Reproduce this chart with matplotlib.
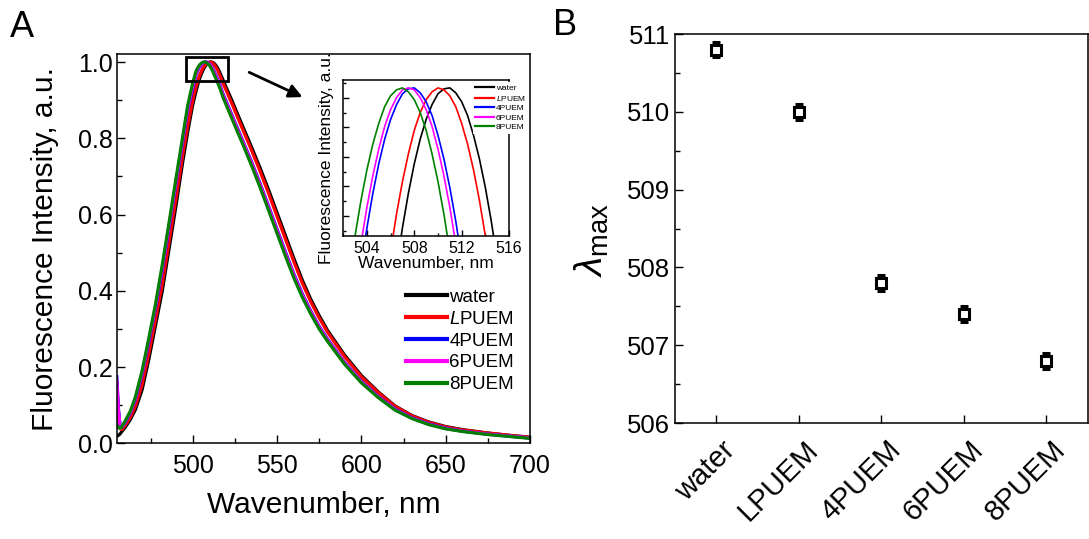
import matplotlib
matplotlib.use("Agg")
import matplotlib.pyplot as plt
from matplotlib.patches import Rectangle
from matplotlib.ticker import MultipleLocator
from matplotlib.transforms import ScaledTranslation

plt.rcParams['font.family'] = ['Liberation Sans', 'DejaVu Sans']
plt.rcParams['mathtext.fontset'] = 'custom'
plt.rcParams['mathtext.rm'] = 'Liberation Sans'
plt.rcParams['mathtext.it'] = 'Liberation Sans:italic'

# wavelength grid of the spectra, nm
wavelength = [455, 456, 457, 458, 460, 463, 466, 470, 474, 478, 482, 486, 490, 494, 497, 500,
              502.0, 502.5, 503.0, 503.5, 504.0, 504.5, 505.0, 505.5, 506.0, 506.5, 507.0, 507.5,
              508.0, 508.5, 509.0, 509.5, 510.0, 510.5, 511.0, 511.5, 512.0, 512.5, 513.0, 513.5,
              514.0, 514.5, 515.0, 515.5, 516.0,
              518, 520, 523, 526, 530, 535, 540, 545, 550, 555, 560, 565, 570, 575, 580, 590,
              600, 610, 620, 630, 640, 650, 660, 675, 690, 700]

water = [0.018, 0.021, 0.025, 0.031, 0.042, 0.062, 0.088, 0.140, 0.220, 0.310, 0.400, 0.510,
         0.620, 0.735, 0.815, 0.887,
         0.9236, 0.9321, 0.9400, 0.9475, 0.9544, 0.9609, 0.9668, 0.9723, 0.9773, 0.9818, 0.9858,
         0.9893, 0.9923, 0.9948, 0.9968, 0.9983, 0.9994, 0.9999, 1.0000, 0.9995, 0.9986, 0.9972,
         0.9952, 0.9928, 0.9899, 0.9865, 0.9826, 0.9782, 0.9733,
         0.953, 0.932, 0.902, 0.870, 0.828, 0.776, 0.722, 0.665, 0.605, 0.545, 0.485, 0.428,
         0.378, 0.335, 0.296, 0.232, 0.178, 0.135, 0.098, 0.073, 0.056, 0.044, 0.036, 0.027,
         0.020, 0.016]

lpuem = [0.160, 0.070, 0.038, 0.036, 0.047, 0.068, 0.097, 0.154, 0.236, 0.326, 0.419, 0.529,
         0.640, 0.754, 0.832, 0.899,
         0.9353, 0.9430, 0.9503, 0.9571, 0.9633, 0.9691, 0.9744, 0.9791, 0.9834, 0.9872, 0.9905,
         0.9933, 0.9957, 0.9975, 0.9988, 0.9996, 1.0000, 0.9998, 0.9992, 0.9981, 0.9964, 0.9943,
         0.9917, 0.9886, 0.9850, 0.9809, 0.9763, 0.9712, 0.9657,
         0.9446, 0.924, 0.8935, 0.8616, 0.8197, 0.7674, 0.7129, 0.6554, 0.5954, 0.5354, 0.4759,
         0.420, 0.3711, 0.3288, 0.2909, 0.2277, 0.1746, 0.133, 0.097, 0.072, 0.055, 0.043,
         0.035, 0.027, 0.020, 0.016]

puem4 = [0.175, 0.090, 0.045, 0.042, 0.055, 0.079, 0.114, 0.180, 0.265, 0.355, 0.455, 0.565,
         0.678, 0.788, 0.872, 0.930,
         0.9668, 0.9723, 0.9773, 0.9818, 0.9858, 0.9893, 0.9923, 0.9948, 0.9968, 0.9983, 0.9994,
         0.9999, 1.0000, 0.9995, 0.9986, 0.9972, 0.9952, 0.9928, 0.9899, 0.9865, 0.9826, 0.9782,
         0.9733, 0.9680, 0.9630, 0.9580, 0.9530, 0.9478, 0.9425,
         0.916, 0.8956, 0.8637, 0.8322, 0.7906, 0.7371, 0.681, 0.6218, 0.5618, 0.5018, 0.444,
         0.392, 0.347, 0.3069, 0.273, 0.2126, 0.1625, 0.123, 0.090, 0.067, 0.051, 0.040,
         0.032, 0.024, 0.018, 0.014]

puem6 = [0.165, 0.085, 0.043, 0.043, 0.057, 0.081, 0.117, 0.184, 0.270, 0.360, 0.461, 0.571,
         0.683, 0.794, 0.876, 0.937,
         0.9702, 0.9754, 0.9800, 0.9842, 0.9879, 0.9911, 0.9938, 0.9961, 0.9978, 0.9990, 0.9998,
         1.0000, 0.9998, 0.9990, 0.9978, 0.9961, 0.9938, 0.9911, 0.9879, 0.9842, 0.9800, 0.9754,
         0.9702, 0.9645, 0.9600, 0.9550, 0.9500, 0.9446, 0.9390,
         0.913, 0.8924, 0.8606, 0.829, 0.7874, 0.7339, 0.6775, 0.6182, 0.5582, 0.4982, 0.4405,
         0.389, 0.3445, 0.3046, 0.271, 0.2109, 0.1612, 0.122, 0.089, 0.066, 0.050, 0.039,
         0.032, 0.024, 0.018, 0.014]

puem8 = [0.048, 0.042, 0.039, 0.044, 0.059, 0.084, 0.121, 0.190, 0.276, 0.366, 0.469, 0.579,
         0.692, 0.802, 0.885, 0.945,
         0.9763, 0.9809, 0.9850, 0.9886, 0.9917, 0.9943, 0.9964, 0.9981, 0.9992, 0.9998, 1.0000,
         0.9996, 0.9988, 0.9975, 0.9957, 0.9933, 0.9905, 0.9872, 0.9834, 0.9791, 0.9744, 0.9691,
         0.9640, 0.9590, 0.9540, 0.9490, 0.9435, 0.9380, 0.9330,
         0.907, 0.886, 0.8543, 0.8228, 0.7812, 0.7274, 0.6707, 0.611, 0.551, 0.491, 0.4337,
         0.383, 0.3393, 0.2999, 0.2672, 0.2077, 0.1587, 0.120, 0.087, 0.065, 0.049, 0.038,
         0.031, 0.023, 0.017, 0.013]

labels = ['water', r'$\it{L}$PUEM', '4PUEM', '6PUEM', '8PUEM']
colors = ['black', 'red', 'blue', 'magenta', 'green']
spectra = [water, lpuem, puem4, puem6, puem8]

# panel B: emission maximum per sample
samples = ['water', 'LPUEM', '4PUEM', '6PUEM', '8PUEM']
lambda_max = [510.8, 510.0, 507.8, 507.4, 506.8]
lambda_err = [0.1, 0.1, 0.1, 0.1, 0.1]

fig = plt.figure(figsize=(10.89, 5.39), dpi=100)

def style(ax, size):
    for s in ax.spines.values():
        s.set_linewidth(1.1)
    ax.tick_params(which='both', direction='in', width=1.0, labelsize=size,
                   top=False, right=False)
    ax.tick_params(which='major', length=6)
    ax.tick_params(which='minor', length=3.5)

# ---- panel A
ax = fig.add_axes([0.1077, 0.1775, 0.379, 0.7223])
for y, c, lab in zip(spectra, colors, labels):
    ax.plot(wavelength, y, color=c, lw=2.3, label=lab)
ax.set_xlim(455.3, 700)
ax.set_ylim(0, 1.021)
ax.xaxis.set_major_locator(MultipleLocator(50))
ax.xaxis.set_minor_locator(MultipleLocator(25))
ax.yaxis.set_major_locator(MultipleLocator(0.2))
ax.yaxis.set_minor_locator(MultipleLocator(0.1))
style(ax, 18)
ax.tick_params(axis='x', pad=8)
ax.set_xlabel('Wavenumber, nm', fontsize=21.5, labelpad=9)
ax.set_ylabel('Fluorescence Intensity, a.u.', fontsize=21.5, labelpad=13)
leg = ax.legend(loc='upper left', bbox_to_anchor=(0.70, 0.397), frameon=False,
                fontsize=13.5, handlelength=2.2, handletextpad=0.1, labelspacing=0.25,
                borderpad=0, borderaxespad=0)
for l in leg.get_lines():
    l.set_linewidth(3)

ax.add_patch(Rectangle((496, 0.95), 25, 0.064, fill=False, lw=2, ec='black', zorder=5))
ax.annotate('', xy=(566.6, 0.905), xytext=(532, 0.976),
            arrowprops=dict(arrowstyle='-|>', lw=2, color='black', mutation_scale=20))

# ---- inset
axi = fig.add_axes([0.3152, 0.5627, 0.1522, 0.2889])
for y, c, lab in zip(spectra, colors, labels):
    axi.plot(wavelength, y, color=c, lw=1.2, label=lab)
axi.set_xlim(502, 516)
axi.set_ylim(0.985, 1.0008)
axi.xaxis.set_major_locator(MultipleLocator(4))
axi.xaxis.set_minor_locator(MultipleLocator(2))
axi.yaxis.set_major_locator(MultipleLocator(0.003))
axi.yaxis.set_minor_locator(MultipleLocator(0.0015))
style(axi, 11.5)
axi.tick_params(which='major', length=4)
axi.tick_params(which='minor', length=2)
axi.set_yticklabels([])
axi.set_xlabel('Wavenumber, nm', fontsize=12.5, labelpad=0)
axi.set_ylabel('Fluorescence Intensity, a.u.', fontsize=12.5, labelpad=3)
legi = axi.legend(loc='upper left', bbox_to_anchor=(0.78, 0.99), frameon=True,
                  facecolor='white', edgecolor='none', framealpha=1, fancybox=False,
                  fontsize=6, handlelength=2.3, handletextpad=0.2, labelspacing=0.2,
                  borderpad=0.3, borderaxespad=0)
for l in legi.get_lines():
    l.set_linewidth(1.6)

# ---- panel B
ax2 = fig.add_axes([0.6198, 0.2152, 0.379, 0.7217])
xpos = list(range(len(samples)))
ax2.errorbar(xpos, lambda_max, yerr=lambda_err, fmt='s', mfc='white', mec='black',
             ms=7, mew=2.2, ecolor='black', elinewidth=1, capsize=3, capthick=1)
ax2.set_xlim(-0.5, 4.5)
ax2.set_ylim(506, 511)
ax2.set_xticks(xpos)
ax2.set_xticklabels(samples, rotation=45, ha='right', va='top', rotation_mode='anchor')
ax2.yaxis.set_major_locator(MultipleLocator(1))
ax2.yaxis.set_minor_locator(MultipleLocator(0.5))
style(ax2, 18.5)
ax2.tick_params(axis='x', pad=9, labelsize=21)
shift = ScaledTranslation(5 / 100, 0, fig.dpi_scale_trans)
for t in ax2.get_xticklabels():
    t.set_transform(t.get_transform() + shift)
ax2.set_ylabel(r'$\lambda_{\mathrm{max}}$', fontsize=28)
ax2.yaxis.set_label_coords(-0.155, 0.47)

fig.text(0.009, 0.949, 'A', fontsize=26, ha='left', va='center')
fig.text(0.508, 0.952, 'B', fontsize=26, ha='left', va='center')

fig.savefig('out.png', dpi=100)
